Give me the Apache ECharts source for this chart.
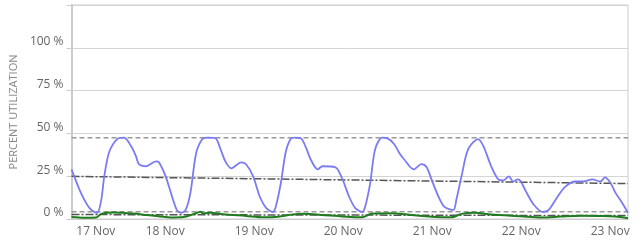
<!DOCTYPE html>
<html>
<head>
<meta charset="utf-8">
<script src="https://cdn.jsdelivr.net/npm/echarts@6/dist/echarts.min.js"></script>
<style>html,body{margin:0;padding:0;background:#fff}#c{width:642px;height:241px}</style>
</head>
<body>
<div id="c"></div>
<script>
// hours relative to 17 Nov 00:00
var axisStartHour = -1.28;
var axisEndHour = 148.8;
var dayTickHours = [0, 24, 48, 72, 96, 120, 144];
var dayLabels = ['17 Nov', '18 Nov', '19 Nov', '20 Nov', '21 Nov', '22 Nov', '23 Nov'];
var yTickValues = [0, 25, 50, 75, 100];

var blueHours = [-1.28,0.86,2.19,3.53,4.87,5.67,6.74,7.55,8.88,11.02,12.9,14.77,16.1,16.9,18.8,21.5,22.3,24.1,25.5,27.1,28.2,29.5,30.8,32.4,34.3,35.6,37.5,38.9,40.2,41.8,44.5,45.8,47.7,49.5,51.2,53.0,53.8,55.2,56.5,57.8,58.9,60.5,61.9,63.2,65.1,66.4,69.9,71.8,73.6,75.2,77.1,77.9,79.3,80.6,82.5,83.8,85.7,87.3,88.4,91.0,93.1,94.5,95.8,97.7,99.3,101.7,102.5,103.9,105.7,108.4,109.8,111.9,113.8,115.1,116.7,117.8,119.1,119.9,121.3,123.4,125.8,127.4,129.8,131.9,134.6,136.8,139.2,141.3,142.6,144.0,145.4,147.2,148.8];
var blueValues = [29.0,17.2,11.2,6.5,4.1,3.6,11.2,24.9,39.1,46.7,47.5,42.6,36.7,32.0,30.8,33.7,33.1,24.9,15.4,5.3,3.6,5.3,15.4,39.1,47.2,47.5,47.2,40.8,33.7,29.6,33.1,32.0,24.9,13.0,6.5,4.1,7.1,21.3,39.1,46.7,47.5,47.2,42.0,34.9,29.0,30.8,30.2,23.1,13.0,6.5,4.1,7.1,21.3,40.8,47.5,47.2,43.8,37.9,34.9,29.0,32.0,30.2,23.1,13.0,7.1,5.3,11.2,24.9,40.8,46.7,42.6,30.8,23.1,22.5,24.9,21.9,23.1,21.9,16.0,8.3,4.1,5.3,13.0,18.9,21.9,21.9,23.1,21.9,24.3,21.3,15.4,9.5,3.6];

var greenHours = [-1.28,2.19,5.4,6.74,10.22,12.36,15.57,19.05,23.6,26.3,28.9,31.6,33.5,34.3,36.2,39.6,45.8,50.4,54.4,58.4,61.07,66.4,73.1,77.1,79.8,85.1,90.5,95.8,101.2,103.9,107.4,111.9,119.9,125.3,130.6,136.0,141.3,145.3,148.8];
var greenValues = [1.2,0.8,0.9,3.0,3.8,3.6,3.2,2.3,1.3,0.9,1.1,2.8,4.2,3.2,3.7,2.8,1.8,1.0,1.3,2.6,3.0,2.4,1.3,1.0,3.2,3.4,2.3,1.3,1.0,3.0,3.6,2.6,1.6,0.9,1.4,1.9,1.8,1.5,0.5];

var blueMax = 47.5;
var blueTrend = [24.9, 20.7];
var greenMax = 4.2;
var greenTrend = [2.6, 2.0];

function pairs(xs, ys) { return xs.map(function (x, i) { return [x, ys[i]]; }); }
function flat(v) { return [[axisStartHour, v], [axisEndHour, v]]; }

var chart = echarts.init(document.getElementById('c'), null, { renderer: 'canvas' });
var font = '"Open Sans", sans-serif';
chart.setOption({
  animation: false,
  grid: { left: 68, right: 14, top: 5, bottom: 22, show: true, borderColor: '#cccccc', borderWidth: 1 },
  xAxis: {
    type: 'value', min: axisStartHour, max: axisEndHour,
    axisLine: { show: true, onZero: false, lineStyle: { color: '#cccccc', width: 1 } },
    axisTick: { show: false },
    splitLine: { show: false },
    axisLabel: {
      customValues: dayTickHours,
      alignMinLabel: 'left',
      margin: 7,
      color: '#666666', fontFamily: font, fontSize: 12,
      formatter: function (v) { var i = dayTickHours.indexOf(v); return i >= 0 ? dayLabels[i] : ''; }
    }
  },
  yAxis: {
    type: 'value', min: 0, max: 125, interval: 25,
    name: 'PERCENT UTILIZATION', nameLocation: 'middle', nameGap: 48,
    nameTextStyle: { color: '#888888', fontFamily: font, fontSize: 11 },
    axisLine: { show: true, onZero: false, lineStyle: { color: '#cccccc', width: 2 } },
    axisTick: { show: true, length: 5, lineStyle: { color: '#cccccc' } },
    splitLine: { show: true, lineStyle: { color: '#d4d4d4', width: 1 } },
    axisLabel: {
      margin: 8, color: '#666666', fontFamily: font, fontSize: 12, verticalAlign: 'bottom',
      formatter: function (v) { return yTickValues.indexOf(v) >= 0 ? v + ' %' : ''; }
    }
  },
  series: [
    { type: 'line', data: flat(blueMax), symbol: 'none', silent: true,
      lineStyle: { color: '#999999', width: 1.5, type: [5, 3] } },
    { type: 'line', data: [[axisStartHour, blueTrend[0]], [axisEndHour, blueTrend[1]]], symbol: 'none', silent: true,
      lineStyle: { color: '#555555', width: 1.5, type: [8, 2, 2, 2] } },
    { type: 'line', data: flat(greenMax), symbol: 'none', silent: true,
      lineStyle: { color: '#999999', width: 1.5, type: [5, 3] } },
    { type: 'line', data: [[axisStartHour, greenTrend[0]], [axisEndHour, greenTrend[1]]], symbol: 'none', silent: true,
      lineStyle: { color: '#555555', width: 1.5, type: [8, 2, 2, 2] } },
    { type: 'line', data: pairs(blueHours, blueValues), symbol: 'none', smooth: 0.3,
      lineStyle: { color: '#7b7bf2', width: 1.8 } },
    { type: 'line', data: pairs(greenHours, greenValues), symbol: 'none', smooth: 0.3,
      lineStyle: { color: '#1f7d1f', width: 2 } }
  ]
});
</script>
</body>
</html>
